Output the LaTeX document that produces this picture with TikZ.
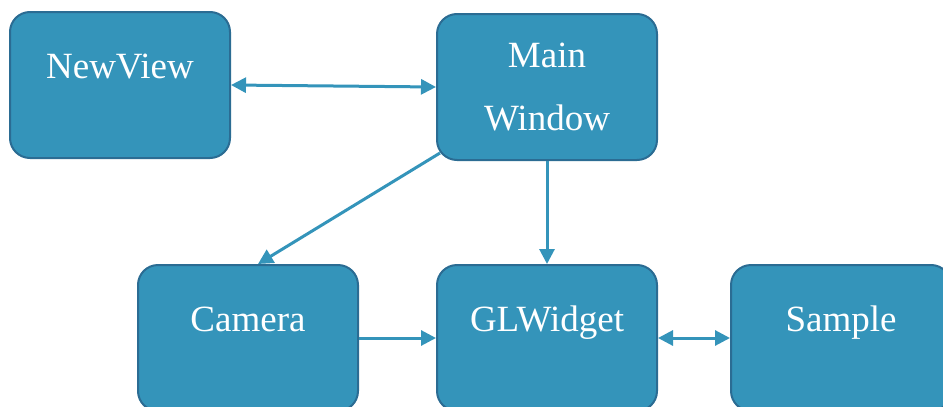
\documentclass[tikz,border=0pt]{standalone}
\usepackage{fontspec}
\setmainfont{Liberation Serif}
\newfontfamily\boxfont{Liberation Serif}
\usetikzlibrary{arrows.meta}
\definecolor{boxfill}{HTML}{3494BA}
\definecolor{boxline}{HTML}{2B6C93}
\tikzset{
  box/.style={draw=boxline, fill=boxfill, line width=2pt, rounded corners=20pt,
    minimum width=220pt, minimum height=146pt, text=white, inner sep=0pt,
    font=\boxfont\fontsize{37}{63}\selectfont},
  oneline/.style={text height=20pt, text depth=34pt},
  link/.style={draw=boxfill, line width=3pt, -{Triangle[length=15pt,width=15pt]}},
  twolink/.style={link, {Triangle[length=15pt,width=15pt]}-{Triangle[length=15pt,width=15pt]}}
}

\begin{document}
\begin{tikzpicture}[x=1pt, y=-1pt]
\useasboundingbox (0,0) rectangle (943,407);

\draw (120,85)   node (11) [box, oneline]           {NewView};
\draw (547,87)   node (12) [box, align=center]      {Main\\Window};
\draw [twolink] (11.east) -- (12.west);

\draw (248,338)  node (21) [box, oneline]           {Camera};
\draw (547,338)  node (22) [box, oneline]           {GLWidget};
\draw (841,338)  node (23) [box, oneline]           {Sample};

\draw [link] ([xshift=4pt,yshift=8pt]12.south west) -- ([xshift=10pt]21.north);
\draw [link] (12.south) -- (22.north);
\draw [link] (21.east) -- (22.west);
\draw [twolink] (22.east) -- (23.west);
\end{tikzpicture}
\end{document}
